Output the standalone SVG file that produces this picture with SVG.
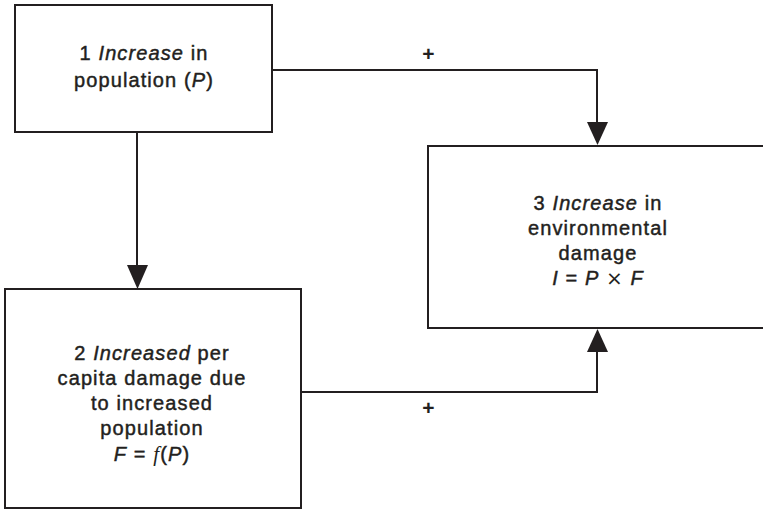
<svg xmlns="http://www.w3.org/2000/svg" width="763" height="510" viewBox="0 0 763 510">
<style>
.box{fill:#fff;stroke:#231f20;stroke-width:2}
.t{font-family:"Liberation Sans",Arial,sans-serif;font-size:20px;fill:#231f20;stroke:#231f20;stroke-width:0.45;letter-spacing:1.1px;text-anchor:middle}
.i{font-style:italic}
.f{font-family:"Liberation Serif","Times New Roman",serif;font-style:italic;stroke-width:0;font-size:21px}
.x{font-family:"DejaVu Sans",sans-serif;stroke-width:0;font-size:20px}
.c{fill:none;stroke:#231f20;stroke-width:2}
.ah{fill:#231f20}
.plus{font-family:"Liberation Sans",Arial,sans-serif;font-size:21px;font-weight:bold;fill:#231f20;text-anchor:middle}
</style>
<rect width="763" height="510" fill="#fff"/>
<g id="connectors">
<polyline class="c" points="272,70 597,70 597,124"/>
<polygon class="ah" points="587,122 608,122 597.5,145"/>
<line class="c" x1="137" y1="132" x2="137" y2="267"/>
<polygon class="ah" points="127,265 148,265 137.5,289"/>
<polyline class="c" points="301,392 597,392 597,350"/>
<polygon class="ah" points="587,352 608,352 597.5,329"/>
<text class="plus" x="428.5" y="60.5">+</text>
<text class="plus" x="428.5" y="415">+</text>
</g>
<g id="node1">
<rect class="box" x="15" y="5" width="257" height="127"/>
<text class="t" x="144" y="60">1 <tspan class="i">Increase</tspan> in</text>
<text class="t" x="144" y="87">population (<tspan class="i">P</tspan>)</text>
</g>
<g id="node2">
<rect class="box" x="5" y="289" width="296" height="219"/>
<text class="t" x="152" y="360">2 <tspan class="i">Increased</tspan> per</text>
<text class="t" x="152" y="385">capita damage due</text>
<text class="t" x="152" y="410">to increased</text>
<text class="t" x="152" y="435">population</text>
<text class="t" x="152" y="461"><tspan class="i">F</tspan> = <tspan class="f">f</tspan>(<tspan class="i">P</tspan>)</text>
</g>
<g id="node3">
<rect class="box" x="428" y="146" width="345" height="182"/>
<text class="t" x="598" y="210">3 <tspan class="i">Increase</tspan> in</text>
<text class="t" x="598" y="235">environmental</text>
<text class="t" x="598" y="260">damage</text>
<text class="t" x="598" y="285"><tspan class="i">I</tspan> = <tspan class="i">P</tspan> <tspan class="x">×</tspan> <tspan class="i">F</tspan></text>
</g>
</svg>
